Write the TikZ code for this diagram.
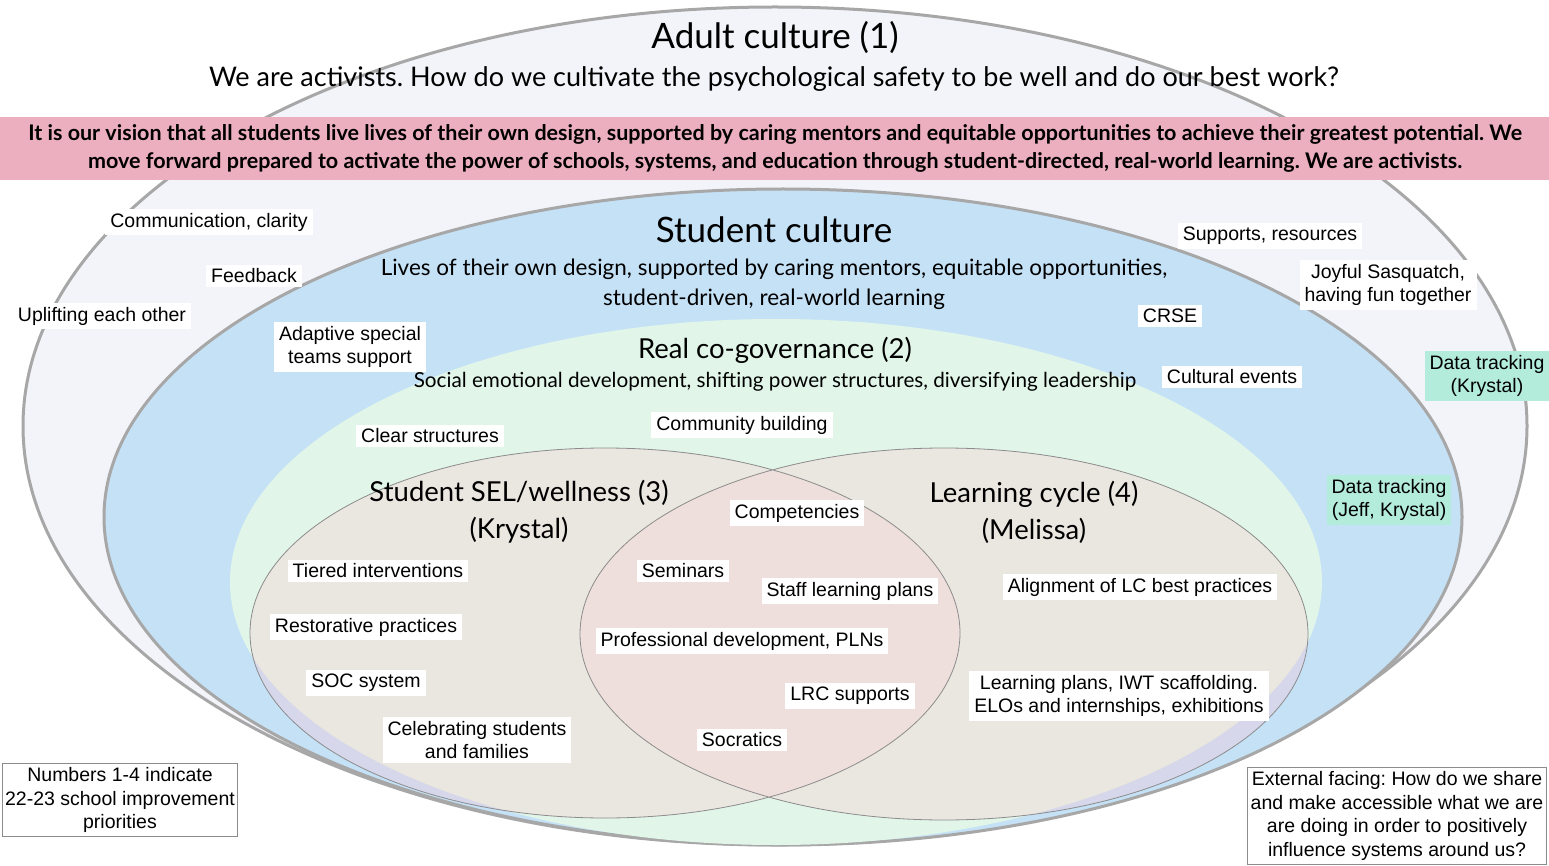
\documentclass[tikz,border=0pt]{standalone}
\usepackage{fontspec}
\setmainfont{Liberation Sans}
\newfontfamily\headfont{Lato}
\frenchspacing
\definecolor{adultbg}{HTML}{F3F4FA}
\definecolor{rimgray}{HTML}{A7A7A7}
\definecolor{studentbg}{HTML}{C5E1F6}
\definecolor{govbg}{HTML}{E1F6E9}
\definecolor{vennbg}{HTML}{EAE6E0}
\definecolor{vennedge}{HTML}{D6D7EA}
\definecolor{overlapbg}{HTML}{EEDFDD}
\definecolor{visionbg}{HTML}{ECAFC0}
\definecolor{datatagbg}{HTML}{B4ECDB}
\definecolor{vennline}{HTML}{8C8C8C}
\tikzset{
 lbl/.style={fill=white, inner xsep=5pt, inner ysep=4pt, align=center, font=\fontsize{19.5}{23.5}\selectfont},
 datatag/.style={lbl, fill=datatagbg},
 notebox/.style={lbl, draw=vennline, line width=0.8pt, inner xsep=3pt},
 bighead/.style={font=\headfont\fontsize{35}{40}\selectfont},
 midhead/.style={font=\headfont\fontsize{27.5}{37}\selectfont, align=center},
 subhead/.style={font=\headfont\fontsize{22.5}{30}\selectfont, align=center},
}
\begin{document}
\begin{tikzpicture}[x=1pt, y=-1pt]
 \useasboundingbox (0,0) rectangle (1549,866);
 % rings
 \filldraw[fill=adultbg, draw=rimgray, line width=3pt] (775,426) ellipse[x radius=752pt, y radius=419pt];
 \fill[visionbg] (0,117) rectangle (1549,180);
 \filldraw[fill=studentbg, draw=rimgray, line width=3pt] (783,517) ellipse[x radius=679pt, y radius=328pt];
 \fill[govbg] (776,582) ellipse[x radius=546pt, y radius=263pt];
 \fill[vennedge] (605,633) ellipse[x radius=355pt, y radius=185pt] (944,634) ellipse[x radius=364pt, y radius=186pt];
 \begin{scope}
  \clip (776,582) ellipse[x radius=546pt, y radius=263pt];
  \fill[vennbg] (605,633) ellipse[x radius=355pt, y radius=185pt] (944,634) ellipse[x radius=364pt, y radius=186pt];
 \end{scope}
 \begin{scope}
  \clip (605,633) ellipse[x radius=355pt, y radius=185pt];
  \fill[overlapbg] (944,634) ellipse[x radius=364pt, y radius=186pt];
 \end{scope}
 \draw[vennline, line width=0.8pt] (605,633) ellipse[x radius=355pt, y radius=185pt] (944,634) ellipse[x radius=364pt, y radius=186pt];
 % headings
 \node[bighead] (adult) at (775,37) {Adult culture (1)};
 \node[font=\headfont\fontsize{27}{30}\selectfont] (adultq) at (774,79) {We are activists. How do we cultivate the psychological safety to be well and do our best work?};
 \node[font=\headfont\bfseries\fontsize{21.5}{28}\selectfont, align=center] (vision) at (775,148) {It is our vision that all students live lives of their own design, supported by caring mentors and equitable opportunities to achieve their greatest potential. We\\move forward prepared to activate the power of schools, systems, and education through student-directed, real-world learning. We are activists.};
 \node[bighead] (student) at (774,230) {Student culture};
 \node[subhead] (studentq) at (774,284) {Lives of their own design, supported by caring mentors, equitable opportunities,\\student-driven, real-world learning};
 \node[midhead] (gov) at (775,350) {Real co-governance (2)};
 \node[font=\headfont\fontsize{20.7}{24}\selectfont] (govq) at (775,382) {Social emotional development, shifting power structures, diversifying leadership};
 \node[midhead] (sel) at (519,512) {Student SEL/wellness (3)\\(Krystal)};
 \node[midhead] (cycle) at (1034,512) {Learning cycle (4)\\(Melissa)};
 % adult culture labels
 \node[lbl] (comm) at (209,222) {Communication, clarity};
 \node[lbl] (feedback) at (254,276) {Feedback};
 \node[lbl] (uplift) at (102,316) {Uplifting each other};
 \node[lbl] (supports) at (1270,236) {Supports, resources};
 \node[lbl] (joyful) at (1388,285) {Joyful Sasquatch,\\having fun together};
 \node[datatag] (dataadult) at (1487,376) {Data tracking\\(Krystal)};
 % student culture labels
 \node[lbl] (adaptive) at (350,347) {Adaptive special\\teams support};
 \node[lbl] (crse) at (1170,316) {CRSE};
 \node[lbl] (cultural) at (1232,377) {Cultural events};
 \node[datatag] (datastudent) at (1389,500) {Data tracking\\(Jeff, Krystal)};
 % co-governance labels
 \node[lbl] (clear) at (430,436) {Clear structures};
 \node[lbl] (community) at (742,425) {Community building};
 % SEL labels
 \node[lbl] (tiered) at (378,571) {Tiered interventions};
 \node[lbl] (restore) at (366,627) {Restorative practices};
 \node[lbl] (soc) at (366,683) {SOC system};
 \node[lbl] (celebrate) at (477,740) {Celebrating students\\and families};
 % overlap labels
 \node[lbl] (compet) at (797,513) {Competencies};
 \node[lbl] (seminars) at (683,571) {Seminars};
 \node[lbl] (staff) at (850,591) {Staff learning plans};
 \node[lbl] (profdev) at (742,641) {Professional development, PLNs};
 \node[lbl] (lrc) at (850,696) {LRC supports};
 \node[lbl] (socratics) at (742,740) {Socratics};
 % learning cycle labels
 \node[lbl] (align) at (1140,587) {Alignment of LC best practices};
 \node[lbl] (plans) at (1119,696) {Learning plans, IWT scaffolding.\\ELOs and internships, exhibitions};
 % notes
 \node[notebox] (numbers) at (120,800) {Numbers 1-4 indicate\\22-23 school improvement\\priorities};
 \node[notebox] (external) at (1397,816) {External facing: How do we share\\and make accessible what we are\\are doing in order to positively\\influence systems around us?};
\end{tikzpicture}
\end{document}
